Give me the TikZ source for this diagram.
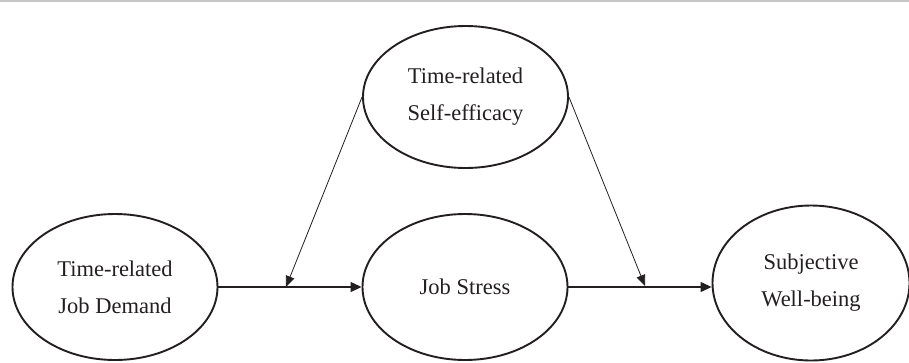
\documentclass[tikz,border=0pt]{standalone}
\usepackage{fontspec}
\setmainfont{Liberation Serif}
\usetikzlibrary{shapes.geometric,arrows.meta}
\definecolor{ink}{HTML}{231F20}
\begin{document}
\begin{tikzpicture}[x=1pt,y=-1pt,
  var/.style={draw=ink,line width=1.9pt,ellipse,minimum width=205pt,minimum height=146pt,inner sep=0pt,
    align=center,text=ink,font=\fontsize{22.5}{37}\selectfont},
  arr/.style={draw=ink,line width=1.2pt,-{Triangle[length=11pt,width=10pt]}},
  diag/.style={draw=ink,line width=0.8pt,-{Triangle[length=11pt,width=9pt]}}]
\useasboundingbox (0,0) rectangle (909,362);
\draw[gray!45,line width=2pt] (0,1) -- (909,1);
\node[var] (TD) at (115,287) {Time-related\\Job Demand};
\node[var] (JS) at (465,287) {Job Stress};
\node[var,minimum width=197pt,minimum height=155pt] (SW) at (811,283) {Subjective\\Well-being};
\node[var,minimum height=142pt] (SE) at (465.5,97) {Time-related\\Self-efficacy};
\coordinate (m1) at (286,287);
\coordinate (m2) at (645,286);
\draw[arr] (TD.east) -- (JS.west);
\draw[arr] (JS.east) -- (SW.west |- JS.east);
\draw[diag] (SE.west) -- (m1);
\draw[diag] (SE.east) -- (m2);
\end{tikzpicture}
\end{document}
